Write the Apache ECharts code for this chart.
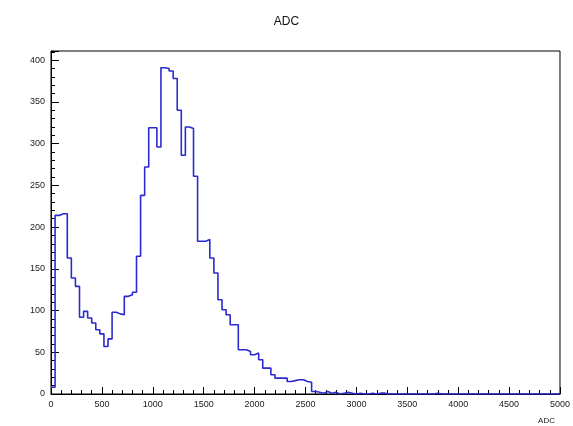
<!DOCTYPE html>
<html><head><meta charset="utf-8">
<script src="https://cdn.jsdelivr.net/npm/echarts@6/dist/echarts.min.js"></script>
<style>html,body{margin:0;padding:0;background:#fff}#c{width:573px;height:426px}</style>
</head><body><div id="c"></div>
<script>
const chartTitle = 'ADC';
const xAxisTitle = 'ADC';
const binStart = 0;
const binWidth = 40;
const counts = [
  8, 214, 216, 216, 163, 139, 129, 92, 99, 91,
  85, 77, 72, 57, 66, 98, 96, 95, 117, 119,
  122, 165, 238, 272, 319, 319, 296, 391, 390, 387,
  378, 340, 286, 320, 318, 261, 183, 183, 185, 163,
  145, 113, 101, 95, 83, 83, 53, 53, 51, 47,
  49, 41, 31, 31, 23, 19, 19, 19, 15, 16,
  17, 17, 15, 14, 3, 2, 1, 3, 1, 2,
  0, 1, 2, 1, 0, 1, 0, 0, 1, 0,
  1, 1, 0, 0, 0, 0, 0, 0, 0, 0,
  0, 0, 0, 0, 1, 0, 0, 0, 0, 0,
  0, 0, 0, 0, 0, 0, 0, 0, 0, 0,
  0, 0, 0, 0, 0, 0, 0, 0, 0, 0,
  0, 0, 0, 0, 0
];
const xTickLabels = [0, 500, 1000, 1500, 2000, 2500, 3000, 3500, 4000, 4500, 5000];
const yTickLabels = [0, 50, 100, 150, 200, 250, 300, 350, 400];
const xMax = 5000;
const yMax = 411;

const points = counts.map((v, i) => [binStart + i * binWidth, v]);
points.push([binStart + counts.length * binWidth, counts[counts.length - 1]]);

const font = 'Liberation Sans, Arial, Helvetica, sans-serif';
const chart = echarts.init(document.getElementById('c'), null, {renderer: 'canvas'});
chart.setOption({
  animation: false,
  backgroundColor: '#ffffff',
  title: [
    {text: chartTitle, left: 'center', top: 11, textStyle: {fontFamily: font, fontSize: 12, fontWeight: 'normal', color: '#111'}},
    {text: xAxisTitle, right: 13, top: 412, textStyle: {fontFamily: font, fontSize: 8, fontWeight: 'normal', color: '#222'}}
  ],
  grid: {left: 51, right: 13, top: 51, bottom: 32, show: true, borderColor: '#000', borderWidth: 1, backgroundColor: 'transparent'},
  xAxis: {
    type: 'value', min: xTickLabels[0], max: xMax, interval: 500,
    axisLine: {show: true, lineStyle: {color: '#000', width: 1}},
    axisTick: {show: true, inside: true, length: 7, lineStyle: {color: '#000'}},
    minorTick: {show: true, splitNumber: 5, length: 4, lineStyle: {color: '#000'}},
    splitLine: {show: false}, minorSplitLine: {show: false},
    axisLabel: {color: '#222', fontSize: 9, fontFamily: font, margin: 6,
      formatter: v => xTickLabels.includes(v) ? String(v) : ''}
  },
  yAxis: [
    {
      type: 'value', min: yTickLabels[0], max: yMax, interval: 50,
      axisLine: {show: true, lineStyle: {color: '#000', width: 1}},
      axisTick: {show: true, inside: true, length: 8, lineStyle: {color: '#000'}},
      splitLine: {show: false},
      axisLabel: {color: '#222', fontSize: 9, fontFamily: font, margin: 6,
        formatter: v => yTickLabels.includes(v) ? String(v) : ''}
    },
    {
      type: 'value', min: 0, max: yMax, interval: 10, position: 'left',
      axisLine: {show: false},
      axisTick: {show: true, inside: true, length: 4, lineStyle: {color: '#000'}},
      splitLine: {show: false},
      axisLabel: {show: false}
    }
  ],
  series: [{
    type: 'line', step: 'end', data: points, showSymbol: false, clip: true,
    lineStyle: {color: '#2a2ad2', width: 1.6},
    yAxisIndex: 0
  }]
});
</script>
</body></html>
